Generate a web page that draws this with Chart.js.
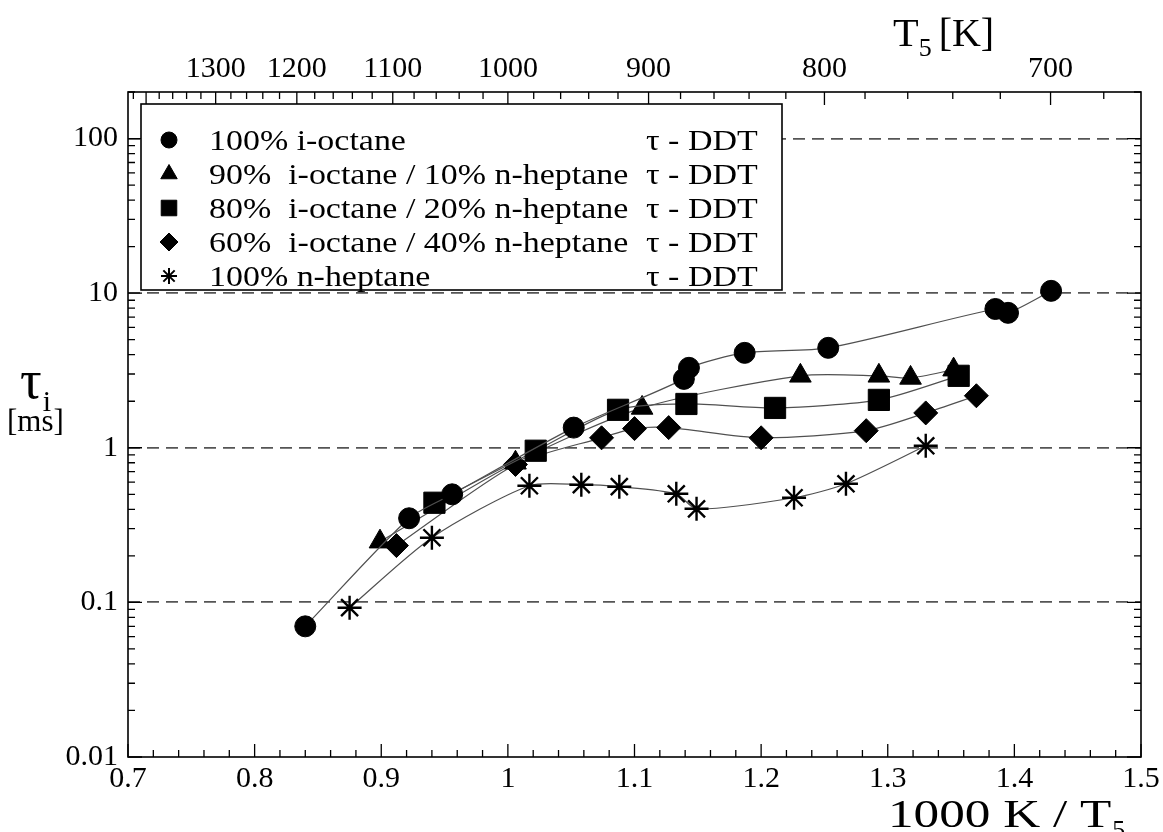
<!DOCTYPE html>
<html lang="en">
<head>
<meta charset="UTF-8">
<title>Ignition delay times - i-octane / n-heptane</title>
<script src="https://cdn.jsdelivr.net/npm/chart.js"></script>
<style>
  html, body { margin: 0; padding: 0; background: #fff; }
  #wrap { position: relative; width: 1163px; height: 832px; }
</style>
</head>
<body>
<div id="wrap"><canvas id="tauChart" width="1163" height="832"></canvas></div>
<script>
// --- data (x = 1000 K / T5, y = tau_i in ms) ---
const octaneX   = [0.84, 0.922, 0.956, 1.052, 1.139, 1.143, 1.187, 1.253, 1.385, 1.395, 1.429];
const octaneY   = [0.07, 0.35, 0.50, 1.35, 2.79, 3.29, 4.11, 4.43, 7.9, 7.46, 10.35];

const mix90X    = [0.899, 1.006, 1.106, 1.231, 1.293, 1.318, 1.352];
const mix90Y    = [0.247, 0.80, 1.81, 2.92, 2.92, 2.83, 3.2];

const mix80X    = [0.942, 1.022, 1.087, 1.141, 1.211, 1.293, 1.356];
const mix80Y    = [0.441, 0.957, 1.76, 1.92, 1.81, 2.04, 2.92];

const mix60X    = [0.912, 1.006, 1.074, 1.100, 1.127, 1.200, 1.283, 1.330, 1.370];
const mix60Y    = [0.233, 0.78, 1.16, 1.33, 1.35, 1.16, 1.29, 1.68, 2.17];

const heptaneX  = [0.875, 0.940, 1.017, 1.058, 1.088, 1.133, 1.149, 1.226, 1.267, 1.330];
const heptaneY  = [0.0924, 0.262, 0.568, 0.577, 0.56, 0.504, 0.403, 0.475, 0.585, 1.03];

const seriesLabels = [
  '100% i-octane',
  '90%  i-octane / 10% n-heptane',
  '80%  i-octane / 20% n-heptane',
  '60%  i-octane / 40% n-heptane',
  '100% n-heptane'
];
const methodLabel = '\u03c4 - DDT';

// axis ticks
const xTickVals   = [0.7, 0.8, 0.9, 1.0, 1.1, 1.2, 1.3, 1.4, 1.5];
const xTickLabels = ['0.7', '0.8', '0.9', '1', '1.1', '1.2', '1.3', '1.4', '1.5'];
const yTickVals   = [0.01, 0.1, 1, 10, 100];
const yTickLabels = ['0.01', '0.1', '1', '10', '100'];
const topTemps    = [1300, 1200, 1100, 1000, 900, 800, 700];

const SERIF = '"Liberation Serif", "Times New Roman", serif';

function pts(xs, ys) {
  return xs.map((x, i) => ({ x: x, y: ys[i] }));
}

function series(label, xs, ys, style, radius, order, bw) {
  return {
    label: label,
    data: pts(xs, ys),
    order: order,
    showLine: true,
    borderColor: '#505050',
    borderWidth: 1.2,
    tension: 0.25,
    pointStyle: style,
    pointRadius: radius,
    pointBackgroundColor: '#000',
    pointBorderColor: '#000',
    pointBorderWidth: bw || 1,
    fill: false
  };
}

// text with optional horizontal stretch
function drawStr(ctx, str, x, y, size, sx) {
  ctx.save();
  ctx.font = size + 'px ' + SERIF;
  ctx.fillStyle = '#000';
  ctx.textBaseline = 'alphabetic';
  ctx.translate(x, y);
  ctx.scale(sx || 1, 1);
  ctx.fillText(str, 0, 0);
  const w = ctx.measureText(str).width * (sx || 1);
  ctx.restore();
  return w;
}

function marker(ctx, style, r, x, y, bw) {
  ctx.save();
  ctx.fillStyle = '#000';
  ctx.strokeStyle = '#000';
  ctx.lineWidth = bw || 1;
  if (Chart.helpers && Chart.helpers.drawPoint) {
    Chart.helpers.drawPoint(ctx, { pointStyle: style, radius: r, rotation: 0, borderWidth: bw || 1 }, x, y);
  } else {
    ctx.beginPath();
    ctx.arc(x, y, r, 0, Math.PI * 2);
    ctx.fill();
  }
  ctx.restore();
}

// frame + inward tick marks
const framePlugin = {
  id: 'frame',
  afterDraw(chart) {
    const { ctx, chartArea: a, scales } = chart;
    const xs = scales.x, ys = scales.y, xt = scales.x2;
    ctx.save();
    ctx.strokeStyle = '#000';
    ctx.lineWidth = 1.6;
    ctx.strokeRect(a.left, a.top, a.right - a.left, a.bottom - a.top);
    ctx.lineWidth = 1.3;
    ctx.beginPath();
    // bottom axis: minor every 0.02, major every 0.1
    for (let k = 0; k <= 40; k++) {
      const v = 0.7 + k * 0.02;
      const px = xs.getPixelForValue(v);
      const len = (k % 5 === 0) ? 13 : 7;
      ctx.moveTo(px, a.bottom); ctx.lineTo(px, a.bottom - len);
    }
    // top axis: temperatures, major each 100 K, minor each 20 K
    for (let t = 1420; t >= 670; t -= 20) {
      const v = 1000 / t;
      if (v < 0.7 || v > 1.5) continue;
      const px = xt.getPixelForValue(v);
      const len = (t % 100 === 0) ? 13 : 7;
      ctx.moveTo(px, a.top); ctx.lineTo(px, a.top + len);
    }
    // left / right log ticks
    for (let d = -2; d <= 2; d++) {
      for (let m = 1; m <= 9; m++) {
        const v = m * Math.pow(10, d);
        if (v < 0.01 || v > 200) continue;
        const py = ys.getPixelForValue(v);
        const len = (m === 1) ? 14 : 7;
        ctx.moveTo(a.left, py); ctx.lineTo(a.left + len, py);
        ctx.moveTo(a.right, py); ctx.lineTo(a.right - len, py);
      }
    }
    ctx.stroke();
    ctx.restore();
  }
};

// legend box and axis titles
const annotPlugin = {
  id: 'annot',
  afterDraw(chart) {
    const ctx = chart.ctx;
    // legend
    const box = { l: 141, t: 104, r: 782, b: 290 };
    ctx.save();
    ctx.fillStyle = '#fff';
    ctx.fillRect(box.l, box.t, box.r - box.l, box.b - box.t);
    ctx.strokeStyle = '#000';
    ctx.lineWidth = 1.6;
    ctx.strokeRect(box.l, box.t, box.r - box.l, box.b - box.t);
    ctx.restore();
    const styles = [['circle', 8, 1], ['triangle', 9.5, 1], ['rect', 11, 1], ['rectRot', 9, 1], ['star', 8, 2]];
    const rowY = [140, 174, 208, 242, 276];
    seriesLabels.forEach((lab, i) => {
      const s = styles[i];
      marker(ctx, s[0], s[1], 169, rowY[i], s[2]);
      drawStr(ctx, lab, 209, rowY[i] + 10, 29, 1.17);
      drawStr(ctx, methodLabel, 646, rowY[i] + 10, 29, 1.17);
    });

    // y title: tau_i [ms]
    let w = drawStr(ctx, '\u03c4', 20, 398, 54, 1);
    drawStr(ctx, 'i', 20 + w + 1, 411, 30, 1);
    drawStr(ctx, '[ms]', 7, 431, 31, 1);

    // top title: T5 [K]
    w = drawStr(ctx, 'T', 893, 46, 40, 1.05);
    drawStr(ctx, '5', 893 + w, 56, 26, 1);
    drawStr(ctx, '[K]', 893 + w + 20, 46, 40, 1);

    // bottom title: 1000 K / T5
    w = drawStr(ctx, '1000 K / T', 888, 827, 40, 1.28);
    drawStr(ctx, '5', 888 + w + 1, 838, 26, 1);
  }
};

const decadeGrid = [0.1, 1, 10, 100];

new Chart(document.getElementById('tauChart'), {
  type: 'scatter',
  data: {
    datasets: [
      series(seriesLabels[0], octaneX, octaneY, 'circle', 10.5, 0),
      series(seriesLabels[1], mix90X, mix90Y, 'triangle', 12.5, 2),
      series(seriesLabels[2], mix80X, mix80Y, 'rect', 15, 1),
      series(seriesLabels[3], mix60X, mix60Y, 'rectRot', 12, 3),
      series(seriesLabels[4], heptaneX, heptaneY, 'star', 12, 4, 2.4)
    ]
  },
  options: {
    responsive: false,
    devicePixelRatio: 1,
    animation: false,
    layout: { padding: { left: 0, right: 22, top: 0, bottom: 0 } },
    plugins: { legend: { display: false }, tooltip: { enabled: false } },
    scales: {
      x: {
        type: 'linear', position: 'bottom', min: 0.7, max: 1.5,
        afterFit: s => { s.height = 75; },
        afterBuildTicks: s => { s.ticks = xTickVals.map(v => ({ value: v })); },
        grid: { display: false },
        border: { display: false },
        ticks: {
          padding: -4, color: '#000', maxRotation: 0, autoSkip: false,
          font: { family: SERIF, size: 30 },
          callback: (v, i) => xTickLabels[i]
        }
      },
      x2: {
        type: 'linear', axis: 'x', position: 'top', min: 0.7, max: 1.5,
        afterFit: s => { s.height = 92; },
        afterBuildTicks: s => { s.ticks = topTemps.map(t => ({ value: 1000 / t })); },
        grid: { display: false },
        border: { display: false },
        ticks: {
          padding: -3, color: '#000', maxRotation: 0, autoSkip: false,
          font: { family: SERIF, size: 30 },
          callback: (v, i) => String(topTemps[i])
        }
      },
      y: {
        type: 'logarithmic', position: 'left', min: 0.01, max: 200,
        afterFit: s => { s.width = 128; },
        afterBuildTicks: s => { s.ticks = yTickVals.map(v => ({ value: v })); },
        grid: {
          drawTicks: false,
          lineWidth: 1.8,
          color: c => (c.tick && decadeGrid.indexOf(c.tick.value) >= 0) ? '#555' : 'rgba(0,0,0,0)'
        },
        border: { display: false, dash: [12, 7] },
        ticks: {
          padding: 10, color: '#000', autoSkip: false,
          font: { family: SERIF, size: 30 },
          callback: (v, i) => yTickLabels[i]
        }
      }
    }
  },
  plugins: [framePlugin, annotPlugin]
});
</script>
</body>
</html>
